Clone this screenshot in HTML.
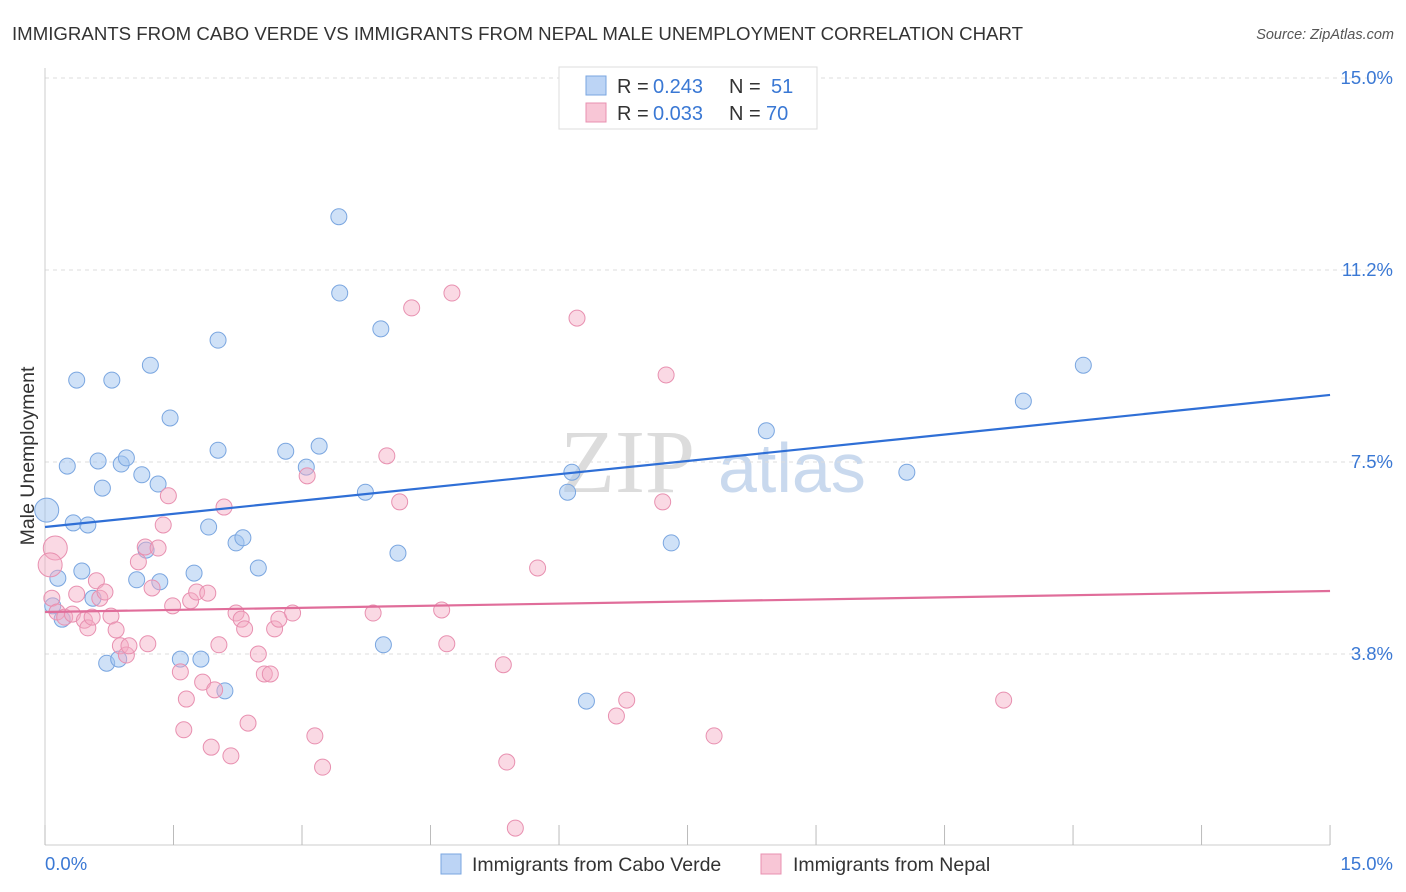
<!DOCTYPE html>
<html><head><meta charset="utf-8"><style>
body{margin:0;background:#fff;font-family:"Liberation Sans",sans-serif;}
svg{display:block}
</style></head><body>
<svg id="chart" width="1406" height="892">
<text x="12" y="40" font-size="18" textLength="1011" lengthAdjust="spacingAndGlyphs" fill="#333">IMMIGRANTS FROM CABO VERDE VS IMMIGRANTS FROM NEPAL MALE UNEMPLOYMENT CORRELATION CHART</text>
<text x="1394" y="39" font-size="14.5" fill="#555" font-style="italic" text-anchor="end">Source: ZipAtlas.com</text>
<text x="560" y="492" font-size="90" fill="#dcdcdc" font-family="Liberation Serif">ZIP</text>
<text x="718" y="492" font-size="70" fill="#c9d9ee">atlas</text>
<text transform="translate(34,456) rotate(-90)" font-size="19.5" fill="#333" text-anchor="middle">Male Unemployment</text>
<g id="grid"></g><g id="pts"></g><g id="lines"></g>
<g>
<rect x="559" y="67" width="258" height="62" fill="#fff" stroke="#ddd"/>
<rect x="586" y="76" width="20" height="19" fill="#bcd4f5" stroke="#7aa6e0"/>
<rect x="586" y="103" width="20" height="19" fill="#f8c6d6" stroke="#e890b0"/>
<text x="617" y="93" font-size="20" fill="#333">R = <tspan x="653" fill="#3a78d4">0.243</tspan><tspan x="729">N =</tspan><tspan x="771" fill="#3a78d4">51</tspan></text>
<text x="617" y="120" font-size="20" fill="#333">R = <tspan x="653" fill="#3a78d4">0.033</tspan><tspan x="729">N =</tspan><tspan x="766" fill="#3a78d4">70</tspan></text>
</g>
<g>
<rect x="441" y="854" width="20" height="20" fill="#bcd4f5" stroke="#7aa6e0"/>
<text x="472" y="871" font-size="19.5" fill="#333">Immigrants from Cabo Verde</text>
<rect x="761" y="854" width="20" height="20" fill="#f8c6d6" stroke="#e890b0"/>
<text x="793" y="871" font-size="19.5" fill="#333">Immigrants from Nepal</text>
</g>
</svg>
<script>
const yTicks=[3.75,7.5,11.25,15];
const yTickLabels=["3.8%","7.5%","11.2%","15.0%"];
const xTickLabels=["0.0%","15.0%"];
const blueX=[0.02,0.33,0.50,0.26,0.37,0.78,0.62,0.67,0.89,0.95,1.13,1.23,1.32,1.46,2.02,2.02,1.91,2.23,2.31,2.49,1.74,1.34,1.07,1.18,0.43,0.15,0.09,0.20,0.56,0.72,0.86,1.58,1.82,2.10,2.81,3.05,3.20,3.43,3.44,3.92,3.74,4.12,3.95,6.15,6.10,6.32,7.31,8.42,10.06,11.42,12.12];
const blueY=[6.56,6.31,6.27,7.42,9.10,9.10,7.52,6.99,7.46,7.58,7.25,9.39,7.07,8.36,9.88,7.73,6.23,5.92,6.02,5.43,5.33,5.16,5.20,5.78,5.37,5.23,4.69,4.43,4.84,3.57,3.65,3.65,3.65,3.03,7.71,7.40,7.81,12.29,10.80,10.10,6.91,5.72,3.93,7.30,6.91,2.83,5.92,8.11,7.30,8.69,9.39];
const pinkX=[0.12,0.06,0.08,0.14,0.23,0.32,0.37,0.46,0.50,0.55,0.60,0.64,0.70,0.77,0.83,0.88,0.95,0.98,1.09,1.17,1.20,1.25,1.32,1.38,1.44,1.49,1.58,1.62,1.65,1.70,1.77,1.84,1.90,1.94,1.98,2.03,2.09,2.17,2.23,2.29,2.33,2.37,2.49,2.56,2.63,2.68,2.73,2.89,3.06,3.15,3.24,3.83,3.99,4.14,4.28,4.63,4.69,4.75,5.35,5.39,5.49,5.75,6.21,6.67,6.79,7.21,7.25,7.81,11.19];
const pinkY=[5.82,5.49,4.84,4.57,4.47,4.53,4.92,4.41,4.26,4.47,5.18,4.84,4.96,4.49,4.22,3.91,3.73,3.91,5.55,5.84,3.95,5.04,5.82,6.27,6.84,4.69,3.40,2.27,2.87,4.79,4.96,3.20,4.94,1.93,3.05,3.93,6.62,1.76,4.55,4.43,4.24,2.40,3.75,3.36,3.36,4.24,4.43,4.55,7.23,2.15,1.54,4.55,7.62,6.72,10.51,4.61,3.95,10.80,3.54,1.64,0.35,5.43,10.31,2.54,2.85,6.72,9.20,2.15,2.85];
const blueLine=[6.23,8.81];
const pinkLine=[4.57,4.98];
const NS='http://www.w3.org/2000/svg';
const sx=v=>45+v*85.67, sy=v=>846-v*51.2;
function mk(tag,attrs,parent){const e=document.createElementNS(NS,tag);for(const k in attrs)e.setAttribute(k,attrs[k]);document.getElementById(parent).appendChild(e);return e;}
yTicks.forEach((t,i)=>{
 const g=mk('line',{x1:45,x2:1392,y1:sy(t),y2:sy(t),stroke:'#ddd','stroke-dasharray':'4,4'},'grid');
 
 
 const l=mk('text',{x:1393,y:sy(t)+6,'font-size':18.5,fill:'#3a78d4','text-anchor':'end'},'grid');l.textContent=yTickLabels[i];
 
 
});
const ax=mk('line',{x1:45,x2:1330,y1:845,y2:845,stroke:'#ccc'},'grid');


const ay=mk('line',{x1:45,x2:45,y1:68,y2:845,stroke:'#ccc'},'grid');


for(let i=0;i<=10;i++){const t=mk('line',{x1:sx(i*1.5),x2:sx(i*1.5),y1:825,y2:845,stroke:'#bbb'},'grid');
 
 }
[[0,'start',45],[1,'end',1393]].forEach(([i,a,x])=>{const l=mk('text',{x:x,y:870,'font-size':18.5,fill:'#3a78d4','text-anchor':a},'grid');l.textContent=xTickLabels[i];
 
 });
function pts(X,Y,fill,stroke,name,bigIdx){X.forEach((x,i)=>{const c=mk('circle',{cx:sx(x),cy:sy(Y[i]),r:bigIdx.includes(i)?12:8,fill:fill,stroke:stroke,'stroke-width':1},'pts');
 
 });}
pts(blueX,blueY,'rgba(160,195,240,0.5)','#7aa6e0','blue-point',[0]);
pts(pinkX,pinkY,'rgba(245,170,195,0.45)','#e890b0','pink-point',[0,1]);
const bl=mk('line',{x1:sx(0),x2:sx(15),y1:sy(blueLine[0]),y2:sy(blueLine[1]),stroke:'#2f6fd6','stroke-width':2.2},'lines');


const pl=mk('line',{x1:sx(0),x2:sx(15),y1:sy(pinkLine[0]),y2:sy(pinkLine[1]),stroke:'#e06d9a','stroke-width':2.2},'lines');


</script>
</body></html>
